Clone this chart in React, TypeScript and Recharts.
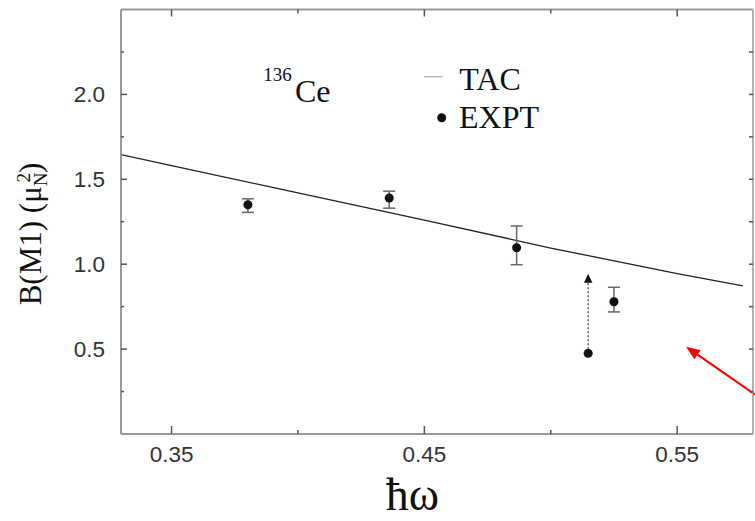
import React from 'react';
import { ComposedChart, Line, Scatter, XAxis, YAxis, ErrorBar, ReferenceLine, Legend, Label } from 'recharts';

// ---- data ----
const X_DOMAIN: [number, number] = [0.33, 0.58];
const Y_DOMAIN: [number, number] = [0, 2.5];
const xTicks = [0.35, 0.4, 0.45, 0.5, 0.55];
const xTickLabels = ['0.35', '', '0.45', '', '0.55'];
const yTicks = [0.25, 0.5, 0.75, 1.0, 1.25, 1.5, 1.75, 2.0, 2.25];
const yTickLabels = ['', '0.5', '', '1.0', '', '1.5', '', '2.0', ''];

// TAC calculation (line)
const tacX = [0.33, 0.35, 0.4, 0.45, 0.5, 0.55, 0.576];
const tacY = [1.645, 1.58, 1.42, 1.26, 1.095, 0.945, 0.873];

// Experimental points with asymmetric errors
const exptX = [0.3802, 0.4361, 0.4865, 0.525];
const exptY = [1.35, 1.39, 1.097, 0.779];
const exptErrLow = [0.045, 0.06, 0.1, 0.06];
const exptErrHigh = [0.035, 0.04, 0.128, 0.085];

// Lower-limit point (dotted arrow upward)
const limitX = [0.5148];
const limitLowY = [0.475];
const limitHighY = [0.942];

// Red annotation arrow (tail -> tip), in data units
const arrowTail = { x: 0.582, y: 0.22 };
const arrowTip = { x: 0.5535, y: 0.514 };

const legendItems = ['TAC', 'EXPT'];

// ---- derived tables ----
const tacData = tacX.map((x, i) => ({ x, y: tacY[i] }));
const exptData = exptX.map((x, i) => ({ x, y: exptY[i], err: [exptErrLow[i], exptErrHigh[i]] }));
const limitLow = limitX.map((x, i) => ({ x, y: limitLowY[i] }));
const limitHigh = limitX.map((x, i) => ({ x, y: limitHighY[i] }));
const limitLine = [...limitLow, ...limitHigh];

// ---- styles ----
const SERIF = '"Liberation Serif", "Times New Roman", serif';
const SANS = '"Liberation Sans", Arial, Helvetica, sans-serif';
const AXIS = { stroke: '#999', strokeWidth: 2 };
const TICK = '#555';
const TICK_FS = 22.5;

const labelFor = (v: number, ticks: number[], labels: string[]) => {
  const i = ticks.findIndex((t) => Math.abs(t - v) < 1e-9);
  return i >= 0 ? labels[i] : '';
};

const BottomTick = (p: any) => {
  const lab = labelFor(p.payload.value, xTicks, xTickLabels);
  const len = lab ? 8 : 4;
  return (
    <g>
      <line x1={p.x} x2={p.x} y1={p.y} y2={p.y - len} stroke={TICK} strokeWidth={1.5} />
      {lab ? (
        <text x={p.x} y={p.y + 27.7} textAnchor="middle" fontFamily={SANS} fontSize={TICK_FS} fill="#333">
          {lab}
        </text>
      ) : null}
    </g>
  );
};

const TopTick = (p: any) => {
  const lab = labelFor(p.payload.value, xTicks, xTickLabels);
  const len = lab ? 7 : 4;
  return <line x1={p.x} x2={p.x} y1={p.y} y2={p.y + len} stroke={TICK} strokeWidth={1.5} />;
};

const LeftTick = (p: any) => {
  const lab = labelFor(p.payload.value, yTicks, yTickLabels);
  const len = lab ? 6 : 3;
  return (
    <g>
      <line x1={p.x} x2={p.x + len} y1={p.y} y2={p.y} stroke={TICK} strokeWidth={1.5} />
      {lab ? (
        <text x={p.x - 16} y={p.y + 8} textAnchor="end" fontFamily={SANS} fontSize={TICK_FS} fill="#333">
          {lab}
        </text>
      ) : null}
    </g>
  );
};

const RightTick = (p: any) => (
  <line x1={p.x} x2={p.x - 4} y1={p.y} y2={p.y} stroke={TICK} strokeWidth={1.5} />
);

const YLabel = () => (
  <text transform="rotate(-90)" x={-234} y={40.5} textAnchor="middle" fontFamily={SERIF} fontSize={31} fill="#111">
    B(M1) (μ
    <tspan fontSize={19} dy={6}>N</tspan>
    <tspan fontSize={19} dx={-10} dy={-17}>2</tspan>
    <tspan dy={11}>)</tspan>
  </text>
);

const XLabel = () => (
  <text x={412.5} y={510} textAnchor="middle" fontFamily={SERIF} fontSize={46} fill="#111">
    ħω
  </text>
);

const RedArrow = (p: any) => {
  const { x1, y1, x2, y2 } = p;
  const dx = x2 - x1;
  const dy = y2 - y1;
  const L = Math.hypot(dx, dy) || 1;
  const ux = dx / L;
  const uy = dy / L;
  const hl = 14;
  const hw = 5.5;
  const bx = x2 - ux * hl;
  const by = y2 - uy * hl;
  return (
    <g>
      <line x1={x1} y1={y1} x2={bx} y2={by} stroke="#f00" strokeWidth={2} />
      <polygon
        points={`${x2},${y2} ${bx - uy * hw},${by + ux * hw} ${bx + uy * hw},${by - ux * hw}`}
        fill="#f00"
      />
    </g>
  );
};

const TriangleUp = (p: any) => {
  const { cx, cy } = p;
  return <polygon points={`${cx},${cy} ${cx - 4.3},${cy + 8.7} ${cx + 4.3},${cy + 8.7}`} fill="#111" />;
};

const NoShape = () => <g />;

const LegendContent = () => (
  <svg width={755} height={140} style={{ position: 'absolute', left: 0, top: 0, overflow: 'visible' }}>
    <line x1={424} x2={442.7} y1={76.7} y2={76.7} stroke="#aaa" strokeWidth={1.2} />
    <text x={459.3} y={90} fontFamily={SERIF} fontSize={32} fill="#111">
      {legendItems[0]}
    </text>
    <circle cx={441.7} cy={117.7} r={4.5} fill="#111" />
    <text x={459} y={127.7} fontFamily={SERIF} fontSize={32} fill="#111">
      {legendItems[1]}
    </text>
  </svg>
);

export default function App() {
  return (
    <div style={{ position: 'absolute', left: 0, top: 0, width: 755, height: 521, background: '#fff' }}>
      <ComposedChart width={755} height={521} margin={{ top: 8.5, right: 1, bottom: 0, left: 0 }}>
        <XAxis
          dataKey="x"
          type="number"
          domain={X_DOMAIN}
          allowDataOverflow
          ticks={xTicks}
          interval={0}
          height={87}
          tickSize={0}
          tickMargin={0}
          tick={BottomTick}
          tickLine={false}
          axisLine={AXIS}
        >
          <Label content={XLabel} />
        </XAxis>
        <XAxis
          xAxisId="top"
          orientation="top"
          dataKey="x"
          type="number"
          domain={X_DOMAIN}
          allowDataOverflow
          ticks={xTicks}
          interval={0}
          height={1}
          tickSize={0}
          tickMargin={0}
          tick={TopTick}
          tickLine={false}
          axisLine={AXIS}
        />
        <YAxis
          dataKey="y"
          type="number"
          domain={Y_DOMAIN}
          allowDataOverflow
          ticks={yTicks}
          interval={0}
          width={121}
          tickSize={0}
          tickMargin={0}
          tick={LeftTick}
          tickLine={false}
          axisLine={AXIS}
        >
          <Label content={YLabel} />
        </YAxis>
        <YAxis
          yAxisId="right"
          orientation="right"
          dataKey="y"
          type="number"
          domain={Y_DOMAIN}
          allowDataOverflow
          ticks={yTicks}
          interval={0}
          width={1}
          tickSize={0}
          tickMargin={0}
          tick={RightTick}
          tickLine={false}
          axisLine={{ stroke: '#999', strokeWidth: 1.5 }}
        />
        <Legend
          layout="vertical"
          align="center"
          verticalAlign="middle"
          content={LegendContent}
          wrapperStyle={{ left: 0, top: 0, width: 0, height: 0 }}
        />
        {/* invisible series that binds the top and right frame axes */}
        <Scatter
          xAxisId="top"
          yAxisId="right"
          data={tacData}
          dataKey="y"
          shape={NoShape}
          isAnimationActive={false}
          legendType="none"
        />
        <Line
          data={tacData}
          dataKey="y"
          type="linear"
          stroke="#222"
          strokeWidth={1.3}
          dot={false}
          activeDot={false}
          isAnimationActive={false}
          legendType="line"
          name="TAC"
        />
        <Scatter
          data={limitLine}
          dataKey="y"
          line={{ stroke: '#444', strokeWidth: 1.3, strokeDasharray: '2 2' }}
          shape={NoShape}
          isAnimationActive={false}
          legendType="none"
        />
        <Scatter data={limitHigh} dataKey="y" shape={TriangleUp} isAnimationActive={false} legendType="none" />
        <Scatter data={limitLow} dataKey="y" fill="#111" isAnimationActive={false} legendType="none" />
        <Scatter data={exptData} dataKey="y" fill="#111" isAnimationActive={false} name="EXPT">
          <ErrorBar dataKey="err" direction="y" width={6} stroke="#666" strokeWidth={1.5} />
        </Scatter>
        <ReferenceLine segment={[arrowTail, arrowTip]} ifOverflow="visible" shape={RedArrow} />
      </ComposedChart>
      <svg width={755} height={521} style={{ position: 'absolute', left: 0, top: 0, pointerEvents: 'none' }}>
        <text fontFamily={SERIF} fill="#111">
          <tspan x={263.3} y={81} fontSize={19}>
            136
          </tspan>
          <tspan x={295} y={101.7} fontSize={32}>
            Ce
          </tspan>
        </text>
      </svg>
    </div>
  );
}
